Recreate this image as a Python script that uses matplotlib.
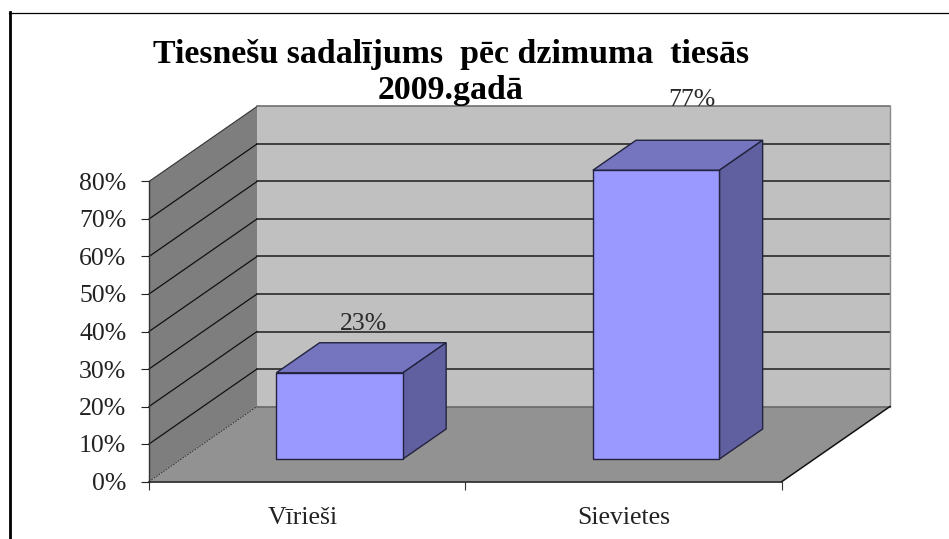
import matplotlib
matplotlib.use("Agg")
import matplotlib.pyplot as plt
from matplotlib.patches import Polygon
from matplotlib.lines import Line2D
from matplotlib.transforms import ScaledTranslation

categories = ["Vīrieši", "Sievietes"]
values = [23, 77]
value_labels = ["23%", "77%"]
y_ticks = [0, 10, 20, 30, 40, 50, 60, 70, 80]
y_tick_labels = ["0%", "10%", "20%", "30%", "40%", "50%", "60%", "70%", "80%"]
title_lines = ["Tiesnešu sadalījums  pēc dzimuma  tiesās", "2009.gadā"]

W, H = 949, 539
FONT = "Liberation Serif"
TEXT_FS = 18.5
fig = plt.figure(figsize=(W / 100, H / 100), dpi=100, facecolor="white")
ax = fig.add_axes([149 / W, (H - 481.5) / H, 633 / W, 300 / H])
ax.set_xlim(0, len(categories))
ax.set_ylim(y_ticks[0], y_ticks[-1])
ax.patch.set_visible(False)
for s in ax.spines.values():
    s.set_visible(False)

# oblique projection: depth 0 = front plane, depth 1 = back wall
DX = 108 / (633 / 2)   # category units per full depth
DY = 20                # percent units per full depth


def P(x, y, d=0.0):
    return (x + d * DX, y + d * DY)


def poly(pts, fc, ec="none", lw=0, z=1):
    ax.add_patch(Polygon(pts, closed=True, facecolor=fc, edgecolor=ec, linewidth=lw,
                         zorder=z, clip_on=False, joinstyle="miter"))


def seg(a, b, color="#111111", lw=1.0, z=2, ls="-"):
    ax.add_line(Line2D([a[0], b[0]], [a[1], b[1]], color=color, lw=lw, zorder=z,
                       ls=ls, clip_on=False))


n = len(categories)
top, bottom = y_ticks[-1], y_ticks[0]
# walls and floor
poly([P(0, bottom, 1), P(n, bottom, 1), P(n, top, 1), P(0, top, 1)], "#C0C0C0")
poly([P(0, bottom, 0), P(0, bottom, 1), P(0, top, 1), P(0, top, 0)], "#7E7E7E")
poly([P(0, bottom, 0), P(n, bottom, 0), P(n, bottom, 1), P(0, bottom, 1)], "#929292")

# gridlines
for v in y_ticks[1:-1]:
    seg(P(0, v, 0), P(0, v, 1), "#111111", 0.9)
    seg(P(0, v, 1), P(n, v, 1), "#1c1c1c", 1.1)
seg(P(0, top, 0), P(0, top, 1), "#333333", 0.8)
seg(P(0, top, 1), P(n, top, 1), "#666666", 1.1)
seg(P(n, top, 1), P(n, bottom, 1), "#8a8a8a", 1.0)
seg(P(0, bottom, 1), P(n, bottom, 1), "#666666", 1.1)
seg(P(0, bottom, 0), P(0, bottom, 1), "#222222", 0.6, ls=(0, (2, 1.5)))
seg(P(0, bottom, 0), P(0, top, 0), "#333333", 1.0)
seg(P(0, bottom, 0), P(n, bottom, 0), "#222222", 1.2)
seg(P(n, bottom, 0), P(n, bottom, 1), "#111111", 1.1)

# bars
BAR_L, BAR_R, D0, D1 = 0.3, 0.7, 0.3, 0.7
EC = "#23233f"
label_offsets_px = [(2, 34), (14, 55)]
for i, (v, lab) in enumerate(zip(values, value_labels)):
    l, r = i + BAR_L, i + BAR_R
    poly([P(l, v, D0), P(r, v, D0), P(r, v, D1), P(l, v, D1)], "#7474BF", EC, 1.0, 4)
    poly([P(r, 0, D0), P(r, 0, D1), P(r, v, D1), P(r, v, D0)], "#6060A0", EC, 1.0, 4)
    poly([P(l, 0, D0), P(r, 0, D0), P(r, v, D0), P(l, v, D0)], "#9999FF", EC, 1.0, 5)
    ox, oy = label_offsets_px[i]
    ax.annotate(lab, xy=P((l + r) / 2, v, 0.5), xytext=(ox * 0.72, oy * 0.72),
                textcoords="offset points", ha="center", va="center", family=FONT,
                fontsize=TEXT_FS, color="#2a2a2a", zorder=6, annotation_clip=False)

# axes ticks
ax.set_yticks(y_ticks, y_tick_labels, family=FONT, fontsize=TEXT_FS, color="#222222")
ax.tick_params(axis="y", length=5.8, width=0.8, color="#222222", pad=10.5)
ax.set_xticks(range(n + 1), [""] * (n + 1))
ax.tick_params(axis="x", which="major", length=6, width=0.8, color="#333333")
ax.set_xticks([i + 0.5 for i in range(n)], categories, minor=True, family=FONT,
              fontsize=TEXT_FS, color="#222222")
ax.tick_params(axis="x", which="minor", length=0, pad=18.5)
first = ax.get_xticklabels(minor=True)[0]
first.set_transform(first.get_transform() + ScaledTranslation(-4 / 100, 0, fig.dpi_scale_trans))

# slide frame
fig.add_artist(Line2D([10.3 / W, 10.3 / W], [0, 1 - 12 / H], color="black", lw=2.0,
                      transform=fig.transFigure))
fig.add_artist(Line2D([9 / W, 1], [1 - 12.5 / H, 1 - 12.5 / H], color="black", lw=0.9,
                      transform=fig.transFigure))

for line, base_y in zip(title_lines, [63, 99]):
    fig.text(451 / W, 1 - base_y / H, line, ha="center", va="baseline", family=FONT,
             fontweight="bold", fontsize=24.4, color="black", zorder=10)

fig.savefig("out.png", dpi=100)
